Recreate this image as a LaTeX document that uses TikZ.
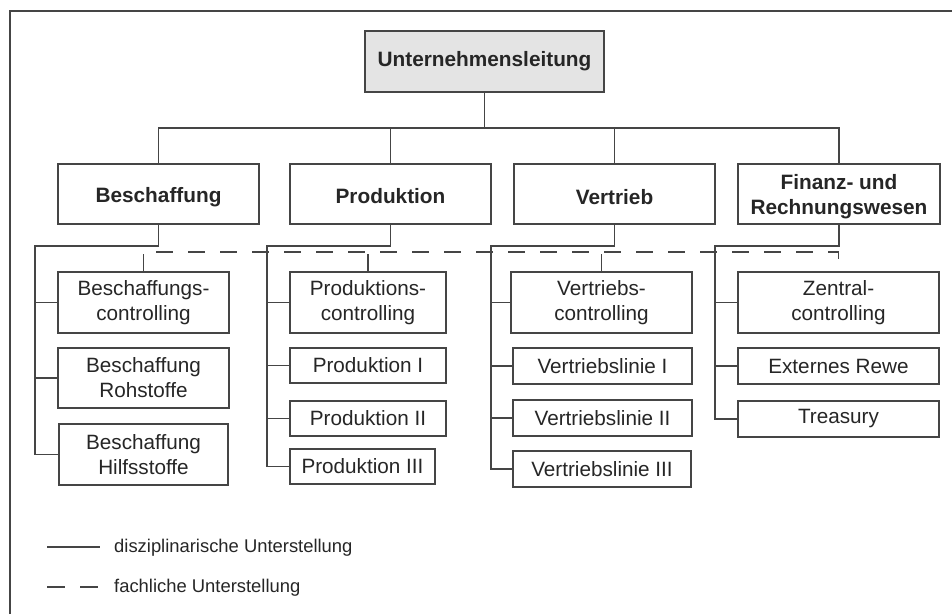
\documentclass[tikz,border=0pt]{standalone}
\usepackage{fontspec}
\setmainfont{Liberation Sans}
\definecolor{linegray}{HTML}{454545}
\definecolor{textgray}{HTML}{262626}
\definecolor{headfill}{HTML}{E4E4E4}
% lower a label by #1 without changing the size the node sees
\newcommand{\lowerlabel}[2]{\raisebox{-#1}[\height][\depth]{#2}}
\begin{document}
\begin{tikzpicture}[x=1pt,y=-1pt,
  every node/.style={text=textgray},
  unit/.style={draw=linegray,line width=1.85pt,inner sep=0pt,align=center,
    font=\fontsize{20.7}{25}\selectfont},
  headunit/.style={unit,font=\bfseries\fontsize{20.8}{25}\selectfont},
  discipl/.style={draw=linegray,line width=1.85pt},
  fach/.style={draw=linegray,line width=1.85pt,dash pattern=on 17pt off 15pt},
  legendtext/.style={anchor=west,inner sep=0pt,font=\fontsize{18.4}{22}\selectfont}]
\useasboundingbox (0,0) rectangle (952,614);
\fill[white] (0,0) rectangle (952,614);

% outer frame (left and top edges)
\draw[discipl] (10,614) -- (10,11) -- (952,11);

% head of the company
\node[headunit,fill=headfill,minimum width=239pt,minimum height=61pt] (top) at (484.5,61.5) {Unternehmensleitung};

% divisions
\node[headunit,minimum width=201pt,minimum height=60pt] (besch) at (158.5,194) {\lowerlabel{3pt}{Beschaffung}};
\node[headunit,minimum width=201pt,minimum height=60pt] (prod) at (390.5,194) {\lowerlabel{2pt}{Produktion}};
\node[headunit,minimum width=201pt,minimum height=60pt] (vert) at (614.5,194) {\lowerlabel{3pt}{Vertrieb}};
\node[headunit,minimum width=202pt,minimum height=60pt] (fin) at (839,194) {\lowerlabel{3pt}{\begin{tabular}{@{}c@{}}Finanz- und\\Rechnungswesen\end{tabular}}};

% procurement units
\node[unit,minimum width=171pt,minimum height=61pt] (bc) at (143.5,302.5) {Beschaffungs-\\controlling};
\node[unit,minimum width=171pt,minimum height=60pt] (br) at (143.5,378) {Beschaffung\\Rohstoffe};
\node[unit,minimum width=169pt,minimum height=61pt] (bh) at (143.5,454.5) {Beschaffung\\Hilfsstoffe};

% production units
\node[unit,minimum width=156pt,minimum height=61pt] (pc) at (368,302.5) {Produktions-\\controlling};
\node[unit,minimum width=156pt,minimum height=35pt] (p1) at (368,365.5) {Produktion I};
\node[unit,minimum width=156pt,minimum height=35pt] (p2) at (368,418.5) {Produktion II};
\node[unit,minimum width=145pt,minimum height=35pt] (p3) at (362.5,466.5) {Produktion III};

% sales units
\node[unit,minimum width=181pt,minimum height=61pt] (vc) at (601.5,302.5) {Vertriebs-\\controlling};
\node[unit,minimum width=179pt,minimum height=36pt] (v1) at (602.5,366) {Vertriebslinie I};
\node[unit,minimum width=179pt,minimum height=36pt] (v2) at (602.5,418) {Vertriebslinie II};
\node[unit,minimum width=178pt,minimum height=36pt] (v3) at (602,469) {Vertriebslinie III};

% finance units
\node[unit,minimum width=201pt,minimum height=61pt] (zc) at (838.5,302.5) {Zentral-\\controlling};
\node[unit,minimum width=201pt,minimum height=36pt] (er) at (838.5,366) {Externes Rewe};
\node[unit,minimum width=201pt,minimum height=36pt] (tr) at (838.5,419) {Treasury};

% bus below the head
\coordinate (bus) at (484,128);
\draw[discipl] (top.south) -- (top.south |- bus);
\draw[discipl] (besch.north) -- (besch.north |- bus) -- (fin.north |- bus) -- (fin.north);
\draw[discipl] (prod.north) -- (prod.north |- bus);
\draw[discipl] (vert.north) -- (vert.north |- bus);

% disciplinary spines of each division
\coordinate (bsp) at (35,246);
\coordinate (psp) at (267,246);
\coordinate (vsp) at (491,246);
\coordinate (fsp) at (715,246);

\draw[discipl] (besch.south) |- (bsp) |- (bh.west);
\draw[discipl] (bc.west) -- (bc.west -| bsp);
\draw[discipl] (br.west) -- (br.west -| bsp);

\draw[discipl] (prod.south) |- (psp) |- (p3.west);
\draw[discipl] (pc.west) -- (pc.west -| psp);
\draw[discipl] (p1.west) -- (p1.west -| psp);
\draw[discipl] (p2.west) -- (p2.west -| psp);

\draw[discipl] (vert.south) |- (vsp) |- (v3.west);
\draw[discipl] (vc.west) -- (vc.west -| vsp);
\draw[discipl] (v1.west) -- (v1.west -| vsp);
\draw[discipl] (v2.west) -- (v2.west -| vsp);

\draw[discipl] (fin.south) |- (fsp) |- (tr.west);
\draw[discipl] (zc.west) -- (zc.west -| fsp);
\draw[discipl] (er.west) -- (er.west -| fsp);

% functional line linking the controlling units
\coordinate (fl) at (144,252);
\draw[fach] (bc.north) -- (bc.north |- fl) -- (zc.north |- fl) -- (zc.north);
\draw[fach] (pc.north) -- (pc.north |- fl);
\draw[fach] (vc.north) -- (vc.north |- fl);

% legend
\coordinate (l1a) at (47,547);
\coordinate (l1b) at (100,547);
\coordinate (l2a) at (47,587);
\coordinate (l2b) at (100,587);
\draw[discipl] (l1a) -- (l1b);
\draw[fach,dash pattern=on 18pt off 15pt] (l2a) -- (l2b);
\node[legendtext] (lg1) at (114,548) {disziplinarische Unterstellung};
\node[legendtext] (lg2) at (114,588) {fachliche Unterstellung};
\end{tikzpicture}
\end{document}
